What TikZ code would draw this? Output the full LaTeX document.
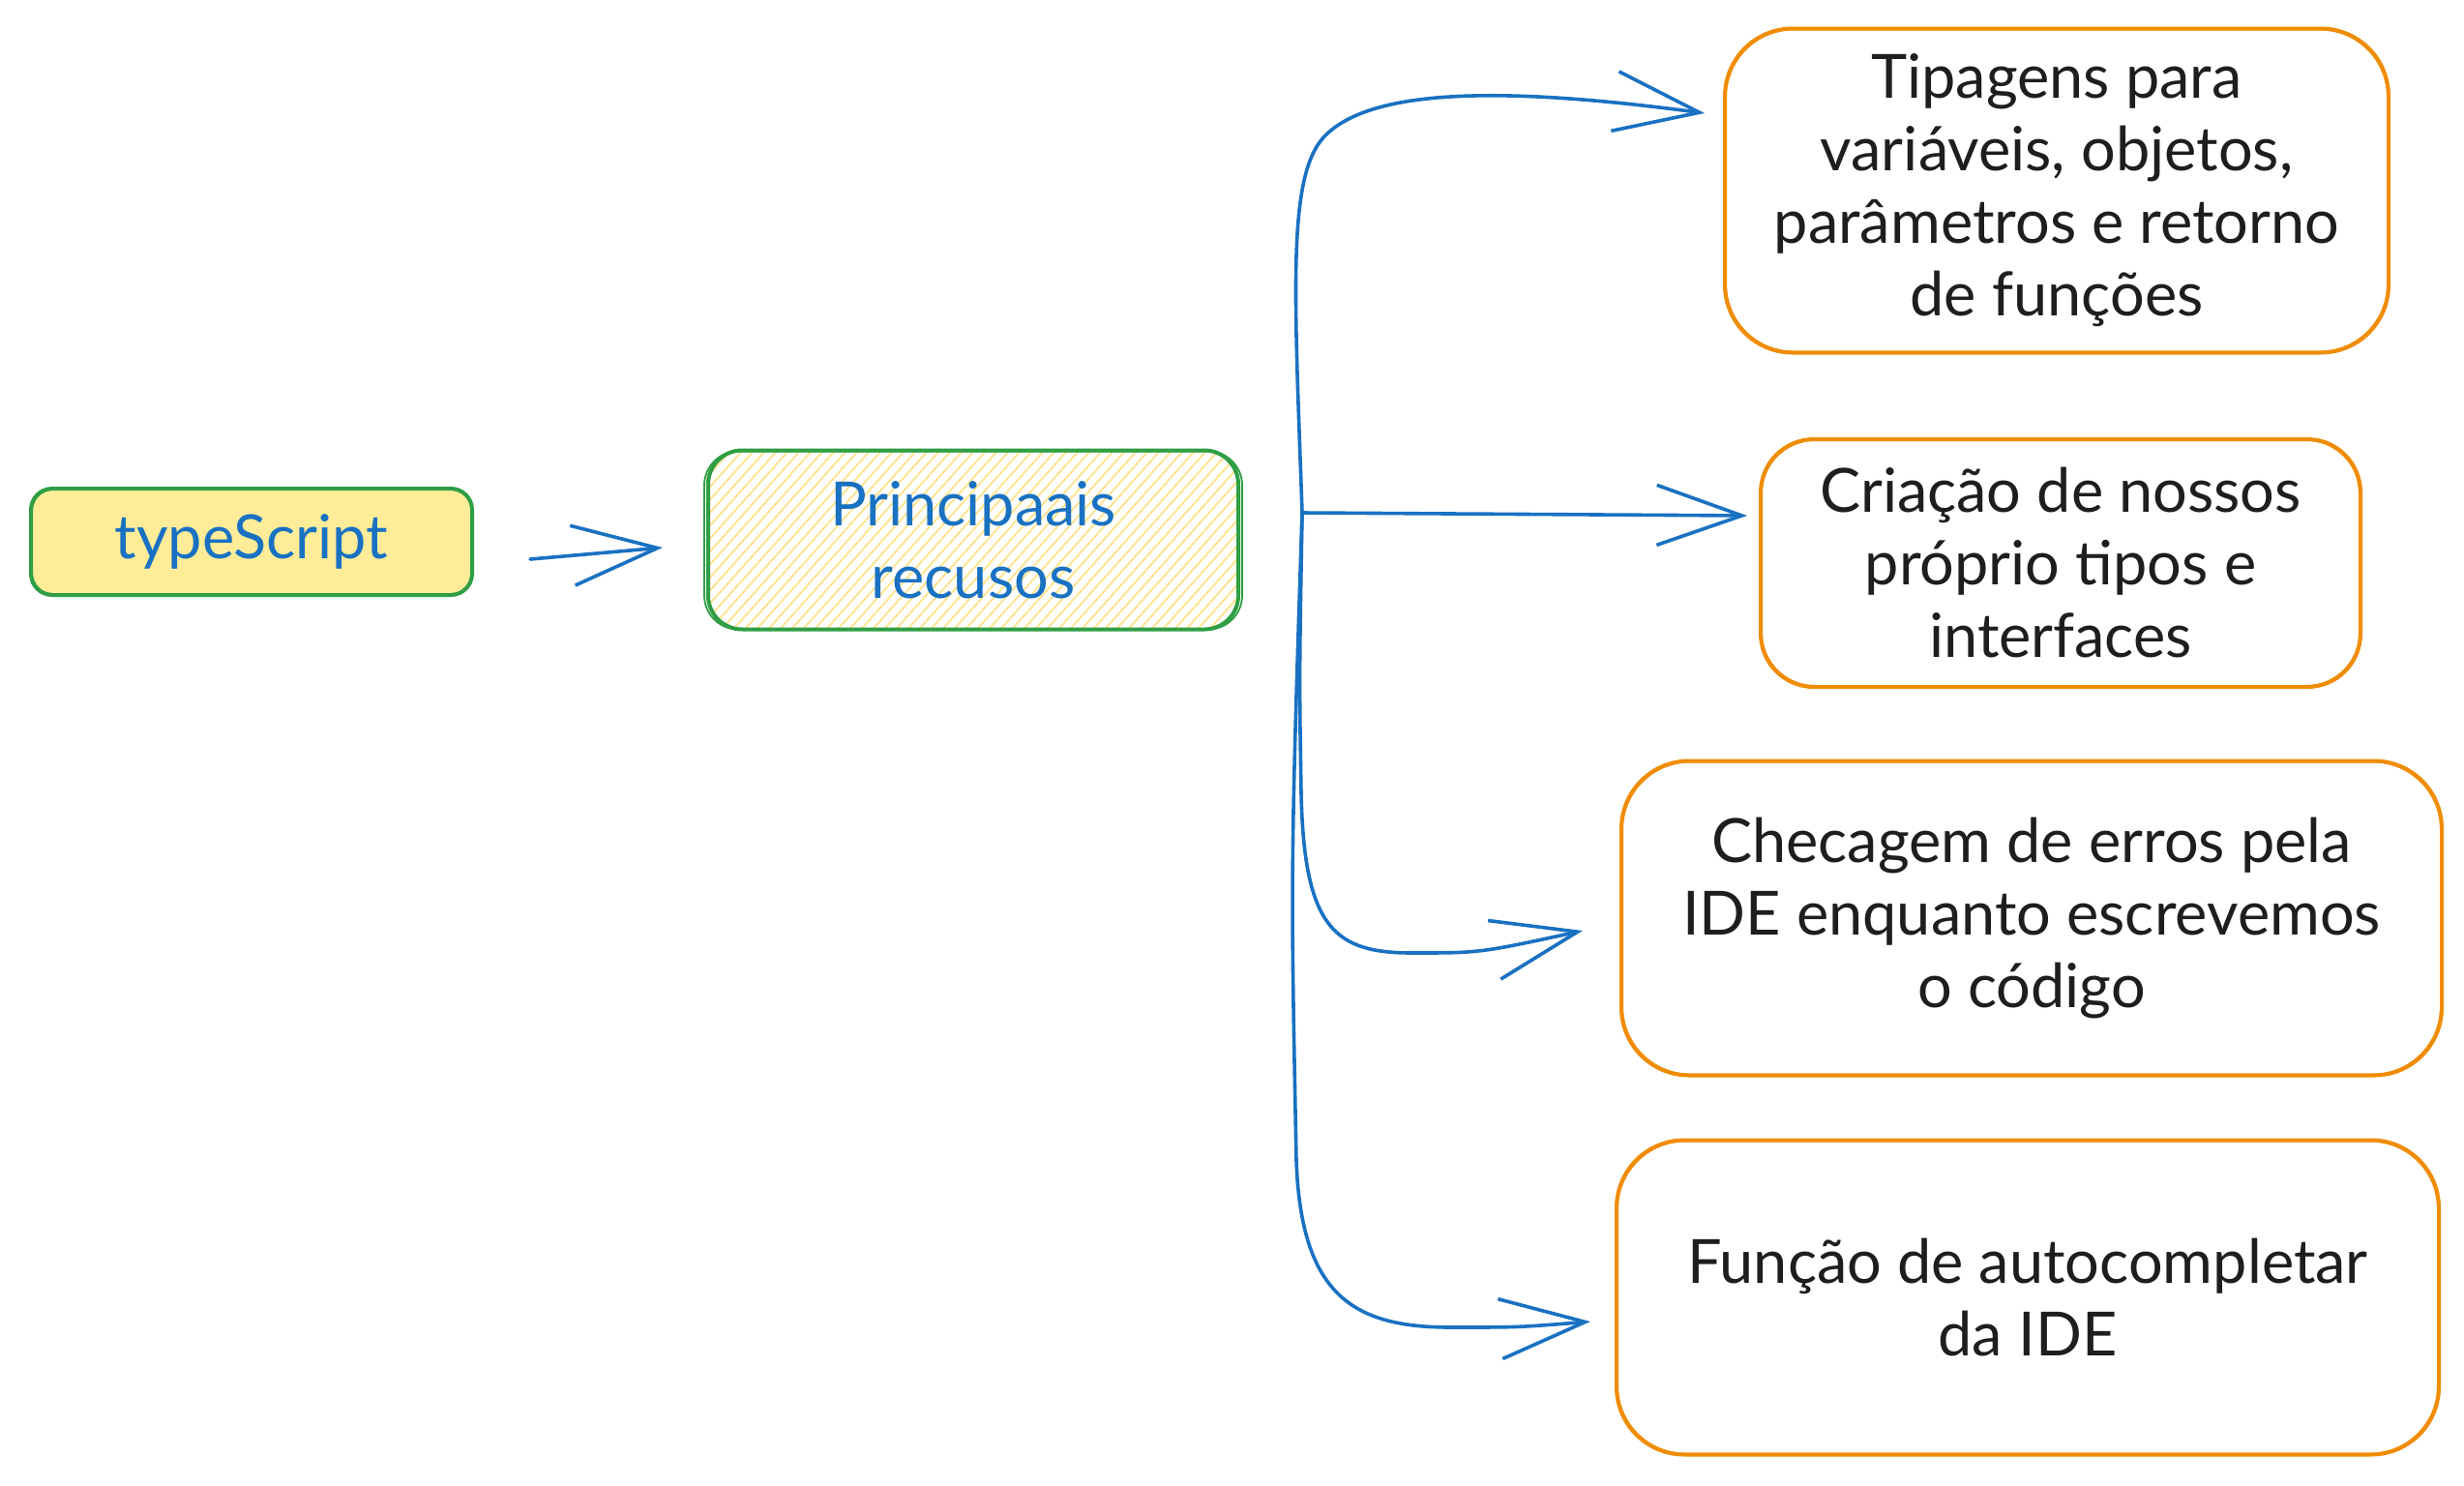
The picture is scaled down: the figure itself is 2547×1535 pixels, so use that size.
\documentclass[tikz,border=0pt]{standalone}
\usepackage{fontspec}
\setmainfont{Lato}
\usetikzlibrary{arrows.meta}
\definecolor{exgreen}{HTML}{2F9E44}
\definecolor{exyellow}{HTML}{FFEC99}
\definecolor{exhatch}{HTML}{FFE38A}
\definecolor{exorange}{HTML}{F08C00}
\definecolor{exblue}{HTML}{1971C2}
\definecolor{exblack}{HTML}{1E1E1E}
\begin{document}
\begin{tikzpicture}[x=1pt,y=-1pt,
  boxbase/.style={rectangle, line width=4pt, inner sep=0pt, align=center,
    font=\fontsize{63}{75}\selectfont},
  greenbox/.style={boxbase, draw=exgreen, text=exblue},
  orangebox/.style={boxbase, draw=exorange, text=exblack},
  echo/.style={line width=1.8pt},
  arr/.style={draw=exblue, line width=3.6pt, line cap=round,
    -{Straight Barb[length=88pt,width=62pt,line width=3.6pt]}},
  hatchline/.style={draw=exhatch, line width=1.8pt}]
\useasboundingbox (0,0) rectangle (2547,1535);
\fill[white] (0,0) rectangle (2547,1535);

% left boxes
\node[greenbox, fill=exyellow, rounded corners=22pt, minimum width=456pt, minimum height=110pt]
  (ts) at (260,560) {typeScript};
\draw[echo, draw=exgreen, rounded corners=22pt] ([shift={(3pt,-3pt)}]ts.north west) rectangle ([shift={(-2pt,3pt)}]ts.south east);

\node[greenbox, rounded corners=35pt, minimum width=548pt, minimum height=185pt,
  path picture={\foreach \i in {-190,-178,...,560}
    \draw[hatchline] ([xshift=\i pt]path picture bounding box.south west) -- ++(170,-190);}]
  (pr) at (1006,558) {Principaais\\recusos};
\draw[echo, draw=exgreen, rounded corners=35pt] ([shift={(-2pt,-3pt)}]pr.north west) rectangle ([shift={(2pt,2pt)}]pr.south east);

% right boxes
\node[orangebox, rounded corners=70pt, minimum width=686pt, minimum height=335pt]
  (b1) at (2126,197) {Tipagens para\\variáveis, objetos,\\parâmetros e retorno\\de funções};
\draw[echo, draw=exorange, rounded corners=70pt] ([shift={(3pt,-3pt)}]b1.north west) rectangle ([shift={(-3pt,3pt)}]b1.south east);

\node[orangebox, rounded corners=55pt, minimum width=620pt, minimum height=256pt]
  (b2) at (2130,582) {Criação de nossos\\próprio tipos e\\interfaces};
\draw[echo, draw=exorange, rounded corners=55pt] ([shift={(3pt,-3pt)}]b2.north west) rectangle ([shift={(-3pt,3pt)}]b2.south east);

\node[orangebox, rounded corners=70pt, minimum width=848pt, minimum height=325pt]
  (b3) at (2100,949) {Checagem de erros pela\\IDE enquanto escrevemos\\o código};
\draw[echo, draw=exorange, rounded corners=70pt] ([shift={(3pt,-3pt)}]b3.north west) rectangle ([shift={(-3pt,3pt)}]b3.south east);

\node[orangebox, rounded corners=70pt, minimum width=850pt, minimum height=325pt]
  (b4) at (2096,1341) {Função de autocompletar\\da IDE};
\draw[echo, draw=exorange, rounded corners=70pt] ([shift={(3pt,-3pt)}]b4.north west) rectangle ([shift={(-3pt,3pt)}]b4.south east);

% connectors
\draw[arr] ([shift={(58pt,-18pt)}]ts.east) -- ([shift={(-45pt,-8pt)}]pr.west);

\coordinate (hub) at (1346,530);
\coordinate (t1) at (1762,117);
\coordinate (t2) at (1806,533);
\coordinate (t3) at (1636,962);
\coordinate (t4) at (1644,1366);

\draw[arr] (hub) .. controls (1338,300) and (1330,180) .. (1370,140)
  .. controls (1420,90) and (1560,90) .. (t1);
\draw[arr] (hub) -- (t2);
\draw[arr] (hub) .. controls (1343,700) .. (1345,820)
  .. controls (1348,960) and (1380,985) .. (1460,985)
  .. controls (1530,985) .. (t3);
\draw[arr] (hub) .. controls (1334,900) .. (1340,1200)
  .. controls (1345,1340) and (1400,1372) .. (1500,1372)
  .. controls (1570,1372) .. (t4);
\end{tikzpicture}
\end{document}
